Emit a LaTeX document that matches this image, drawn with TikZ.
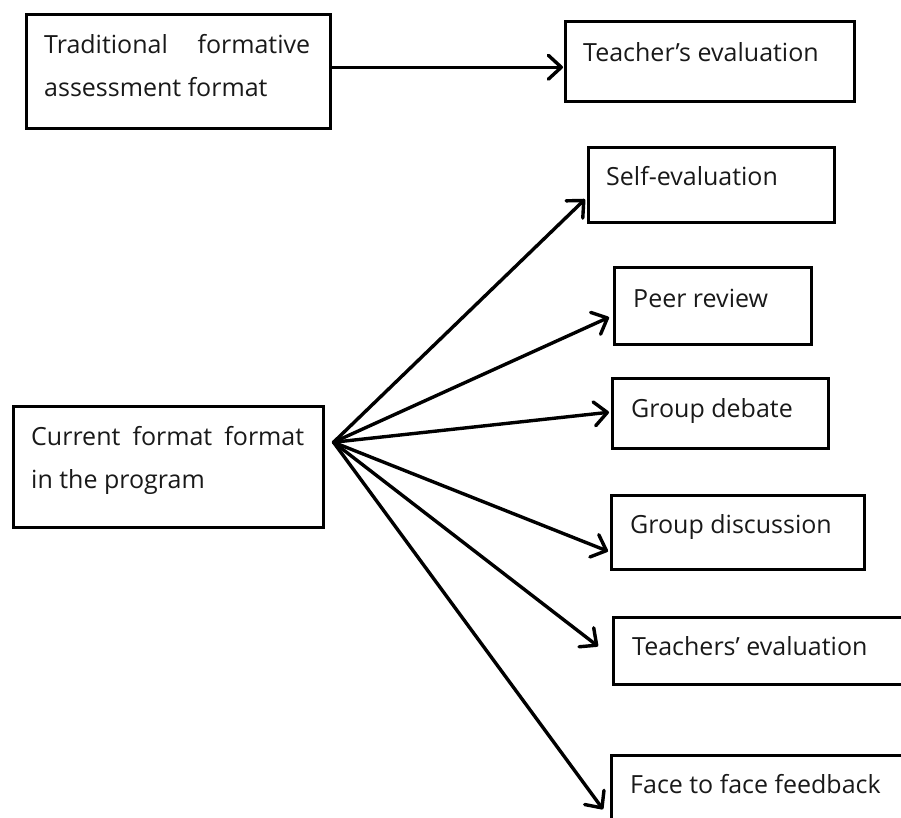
\documentclass[tikz,border=0pt]{standalone}
\usepackage{fontspec}
\setmainfont{Open Sans}
\usetikzlibrary{arrows.meta}
\begin{document}
\begin{tikzpicture}[x=1pt,y=-1pt,
  box/.style={draw, line width=2.5pt, rectangle, inner sep=0pt, anchor=north west},
  lbl/.style={anchor=base west, inner sep=0pt, font=\fontsize{25}{43}\selectfont, text=black!90},
  arr/.style={line width=3.4pt, line cap=round, line join=round, -{Straight Barb[length=13pt,width=24pt,round]}}]
\path[use as bounding box, clip] (0,0) rectangle (901,817);
% boxes
\node[box, minimum width=304pt, minimum height=114pt] (trad) at (25,13) {};
\node[box, minimum width=289pt, minimum height=80pt] (teach) at (564,20) {};
\node[box, minimum width=246pt, minimum height=75pt] (self) at (587,146) {};
\node[box, minimum width=197pt, minimum height=77pt] (peer) at (613,266) {};
\node[box, minimum width=216pt, minimum height=70pt] (debate) at (611,377) {};
\node[box, minimum width=253pt, minimum height=74pt] (disc) at (610,494) {};
\node[box, minimum width=300pt, minimum height=67pt] (teachs) at (612,616) {};
\node[box, minimum width=300pt, minimum height=100pt] (face) at (610,754) {};
\node[box, minimum width=310pt, minimum height=121pt] (cur) at (12,405) {};
% labels
\node[lbl] (trad-t) at ([shift={(19,40)}]trad.north west) {\parbox[t]{266pt}{\makebox[266pt][s]{Traditional\hfill formative}\\assessment format}};
\node[lbl] (teach-t) at ([shift={(19,41)}]teach.north west) {Teacher’s evaluation};
\node[lbl] (self-t) at ([shift={(19,39)}]self.north west) {Self-evaluation};
\node[lbl] (peer-t) at ([shift={(20,41)}]peer.north west) {Peer review};
\node[lbl] (debate-t) at ([shift={(20,40)}]debate.north west) {Group debate};
\node[lbl] (disc-t) at ([shift={(20,39)}]disc.north west) {Group discussion};
\node[lbl] (teachs-t) at ([shift={(20,39)}]teachs.north west) {Teachers’ evaluation};
\node[lbl] (face-t) at ([shift={(20,39)}]face.north west) {Face to face feedback};
\node[lbl] (cur-t) at ([shift={(19,40)}]cur.north west) {\parbox[t]{273pt}{\makebox[273pt][s]{Current\hfill format\hfill format}\\in the program}};
% connectors
\coordinate (hub) at ([shift={(9,-24.5)}]cur.east);
\draw[arr] ([yshift=4pt]trad.east) -- ([shift={(-1,6)}]teach.west);
\draw[arr] (hub) -- ([shift={(-2,14.5)}]self.west);
\draw[arr] (hub) -- ([shift={(-4,11.5)}]peer.west);
\draw[arr] (hub) -- ([shift={(-2,-1)}]debate.west);
\draw[arr] (hub) -- ([shift={(-2,19)}]disc.west);
\draw[arr] (hub) -- ([shift={(-14,-4.5)}]teachs.west);
\draw[arr] (hub) -- ([shift={(-7,4)}]face.west);
\end{tikzpicture}
\end{document}
